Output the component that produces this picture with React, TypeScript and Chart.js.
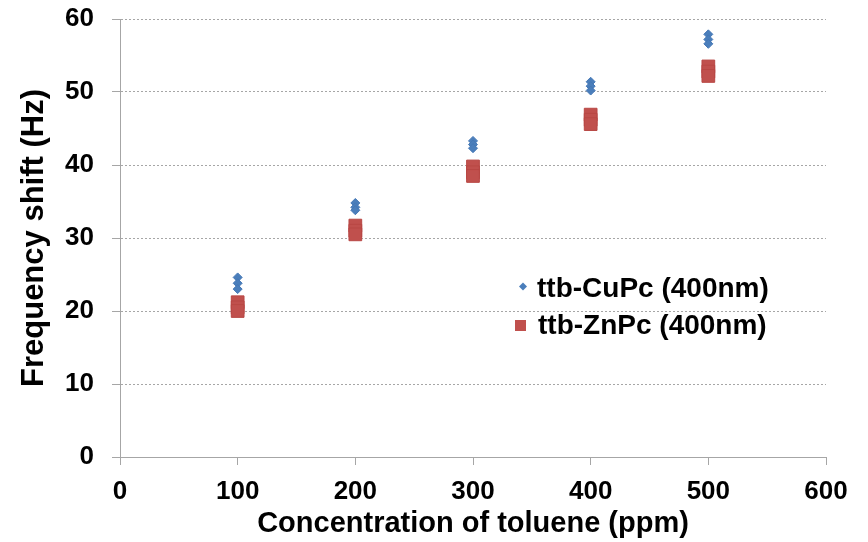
import React, { useEffect, useRef } from "react";
import { Chart, registerables } from "chart.js";

Chart.register(...registerables);

// Concentrations of toluene (ppm)
const concentrations = [100, 200, 300, 400, 500];

// Frequency shift (Hz), three repeated measurements per concentration
const cuPcRun1 = [24.6, 34.8, 43.3, 51.4, 57.9];
const cuPcRun2 = [23.8, 34.2, 42.8, 50.8, 57.2];
const cuPcRun3 = [23.0, 33.8, 42.3, 50.2, 56.6];

const znPcRun1 = [21.2, 31.7, 39.8, 46.9, 53.5];
const znPcRun2 = [20.5, 31.0, 39.0, 46.2, 52.8];
const znPcRun3 = [20.0, 30.5, 38.5, 45.6, 52.2];

const seriesNames = ["ttb-CuPc (400nm)", "ttb-ZnPc (400nm)"];

const xTitle = "Concentration of toluene (ppm)";
const yTitle = "Frequency shift (Hz)";

const xMin = 0, xMax = 600, xStep = 100;
const yMin = 0, yMax = 60, yStep = 10;

const BLUE = "#4A7EBB";
const BLUE_BORDER = "#4477B5";
const RED = "#C0504D";
const RED_BORDER = "#B84744";
const GRID = "#A6A6A6";
const FONT = "'Liberation Sans', Arial, sans-serif";

function toPoints(runs: number[][]) {
  const pts: { x: number; y: number }[] = [];
  runs.forEach((run) => {
    run.forEach((v, i) => pts.push({ x: concentrations[i], y: v }));
  });
  return pts;
}

const legendPlugin = {
  id: "insideLegend",
  afterDraw(chart: any) {
    const { ctx } = chart;
    ctx.save();
    ctx.font = `bold 28px ${FONT}`;
    ctx.fillStyle = "#000";
    ctx.textBaseline = "middle";
    ctx.textAlign = "left";
    // item 1: diamond
    const dx = 523, dy = 286.5, r = 4;
    ctx.beginPath();
    ctx.moveTo(dx - r, dy);
    ctx.lineTo(dx, dy - r);
    ctx.lineTo(dx + r, dy);
    ctx.lineTo(dx, dy + r);
    ctx.closePath();
    ctx.fillStyle = BLUE;
    ctx.fill();
    ctx.fillStyle = "#000";
    ctx.fillText(seriesNames[0], 537, 289);
    // item 2: square
    ctx.fillStyle = RED;
    ctx.fillRect(515, 320, 11, 11);
    ctx.fillStyle = "#000";
    ctx.fillText(seriesNames[1], 538, 326);
    ctx.restore();
  },
};

export default function App() {
  const canvasRef = useRef<HTMLCanvasElement | null>(null);

  useEffect(() => {
    document.body.style.margin = "0";
    const canvas = canvasRef.current;
    if (!canvas) return;
    const chart = new Chart(canvas, {
      type: "scatter",
      data: {
        datasets: [
          {
            label: seriesNames[0],
            data: toPoints([cuPcRun1, cuPcRun2, cuPcRun3]),
            pointStyle: "rectRot",
            pointRadius: 4.5,
            backgroundColor: BLUE,
            borderColor: BLUE_BORDER,
            borderWidth: 1,
          },
          {
            label: seriesNames[1],
            data: toPoints([znPcRun1, znPcRun2, znPcRun3]),
            pointStyle: "rect",
            pointRadius: 9,
            backgroundColor: RED,
            borderColor: RED_BORDER,
            borderWidth: 1,
          },
        ],
      },
      options: {
        responsive: false,
        animation: false,
        events: [],
        layout: { padding: { left: 0, right: 42, top: 19, bottom: 0 } },
        plugins: {
          legend: { display: false },
          tooltip: { enabled: false },
        },
        scales: {
          x: {
            type: "linear",
            min: xMin,
            max: xMax,
            afterFit: (scale: any) => {
              scale.height = 85;
              scale.paddingLeft = 0;
              scale.paddingRight = 0;
            },
            ticks: {
              stepSize: xStep,
              color: "#000",
              padding: 11,
              font: { family: FONT, size: 26, weight: "bold" },
            },
            grid: {
              drawOnChartArea: false,
              drawTicks: true,
              tickLength: 8,
              color: GRID,
            },
            border: { display: true, color: GRID, width: 1 },
            title: {
              display: true,
              text: xTitle,
              color: "#000",
              font: { family: FONT, size: 29, weight: "bold" },
              padding: { top: 0, bottom: 1 },
            },
          },
          y: {
            type: "linear",
            min: yMin,
            max: yMax,
            afterFit: (scale: any) => {
              scale.width = 120;
              scale.paddingTop = 0;
              scale.paddingBottom = 0;
            },
            ticks: {
              stepSize: yStep,
              color: "#000",
              padding: 18,
              font: { family: FONT, size: 26, weight: "bold" },
            },
            grid: {
              drawOnChartArea: true,
              drawTicks: true,
              tickLength: 8,
              color: GRID,
              tickColor: GRID,
              tickBorderDash: [],
            },
            border: { display: true, color: GRID, width: 1, dash: [2, 2] },
            title: {
              display: true,
              text: yTitle,
              color: "#000",
              font: { family: FONT, size: 31, weight: "bold" },
              padding: { top: 16, bottom: 0 },
            },
          },
        },
      },
      plugins: [legendPlugin],
    } as any);
    return () => chart.destroy();
  }, []);

  return (
    <div style={{ width: 868, height: 542, background: "#fff" }}>
      <canvas ref={canvasRef} width={868} height={542} />
    </div>
  );
}
